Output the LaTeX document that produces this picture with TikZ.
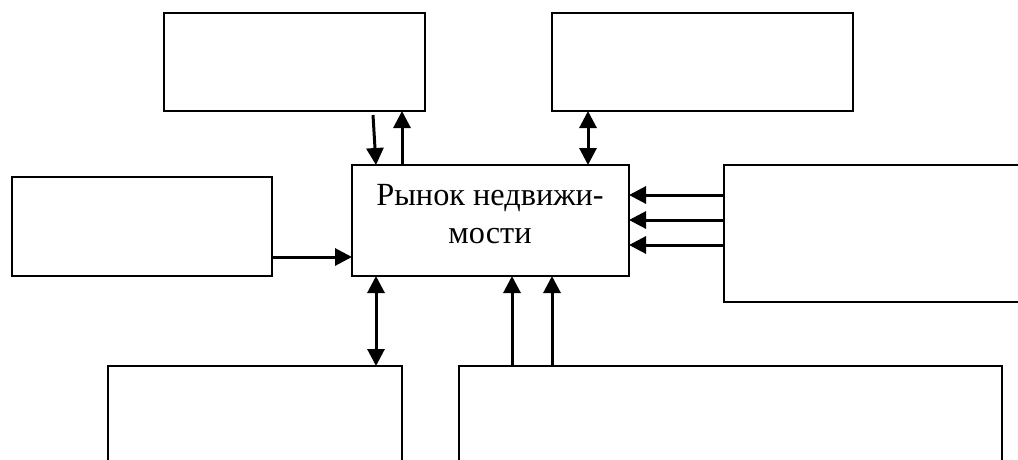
\documentclass[tikz,border=0pt]{standalone}
\usepackage{fontspec}
\setmainfont{Liberation Serif}
\usetikzlibrary{arrows.meta,calc}
\begin{document}
\begin{tikzpicture}[x=1pt,y=-1pt,
  blk/.style={draw=black,line width=2pt,fill=white,anchor=north west,inner sep=0pt,outer sep=0pt},
  txt/.style={anchor=base,inner sep=0pt,font=\fontsize{32.3}{38}\selectfont},
  arr/.style={line width=3pt,-{Triangle[width=17pt,length=17pt]}},
  darr/.style={line width=3pt,{Triangle[width=17pt,length=17pt]}-{Triangle[width=17pt,length=17pt]}}]
\useasboundingbox (0,0) rectangle (1018,459);
\clip (0,0) rectangle (1018,459);
\node[blk,minimum width=261pt,minimum height=98pt] (tl) at (164,13) {};
\node[blk,minimum width=301pt,minimum height=98pt] (tr) at (552,13) {};
\node[blk,minimum width=260pt,minimum height=99pt] (lf) at (12,177) {};
\node[blk,minimum width=277pt,minimum height=111pt] (c) at (352,165) {};
\node[txt] (c1) at (490,205) {Рынок недвижи-};
\node[txt] (c2) at (490,243) {мости};
\node[blk,minimum width=300pt,minimum height=137pt] (rt) at (724,165) {};
\node[blk,minimum width=294pt,minimum height=110pt] (bl) at (108,366) {};
\node[blk,minimum width=543pt,minimum height=110pt] (br) at (459,366) {};
% connector end points
\coordinate (tlA) at ($(tl.south west)+(209,4)$);
\coordinate (tlB) at ($(c.north west)+(24,0)$);
\coordinate (up1) at ($(c.north west)+(50,0)$);
\coordinate (tr1) at ($(tr.south west)+(36,0)$);
\coordinate (bl1) at ($(c.south west)+(24,0)$);
\coordinate (br1) at ($(br.north west)+(53,0)$);
\coordinate (br2) at ($(br.north west)+(93,0)$);
\coordinate (lf1) at ($(lf.south east)+(0,-19)$);
% connectors
\draw[arr] (tlA) -- (tlB);
\draw[arr] (up1) -- (up1 |- tl.south);
\draw[darr] (tr1) -- (tr1 |- c.north);
\draw[arr] (lf1) -- (lf1 -| c.west);
\foreach \yy/\nm in {30/ra,55/rb,80/rc}{
  \coordinate (\nm) at ($(rt.north west)+(0,\yy)$);
  \draw[arr] (\nm) -- (\nm -| c.east);
}
\draw[darr] (bl1) -- (bl1 |- bl.north);
\draw[arr] (br1) -- (br1 |- c.south);
\draw[arr] (br2) -- (br2 |- c.south);
\end{tikzpicture}
\end{document}
